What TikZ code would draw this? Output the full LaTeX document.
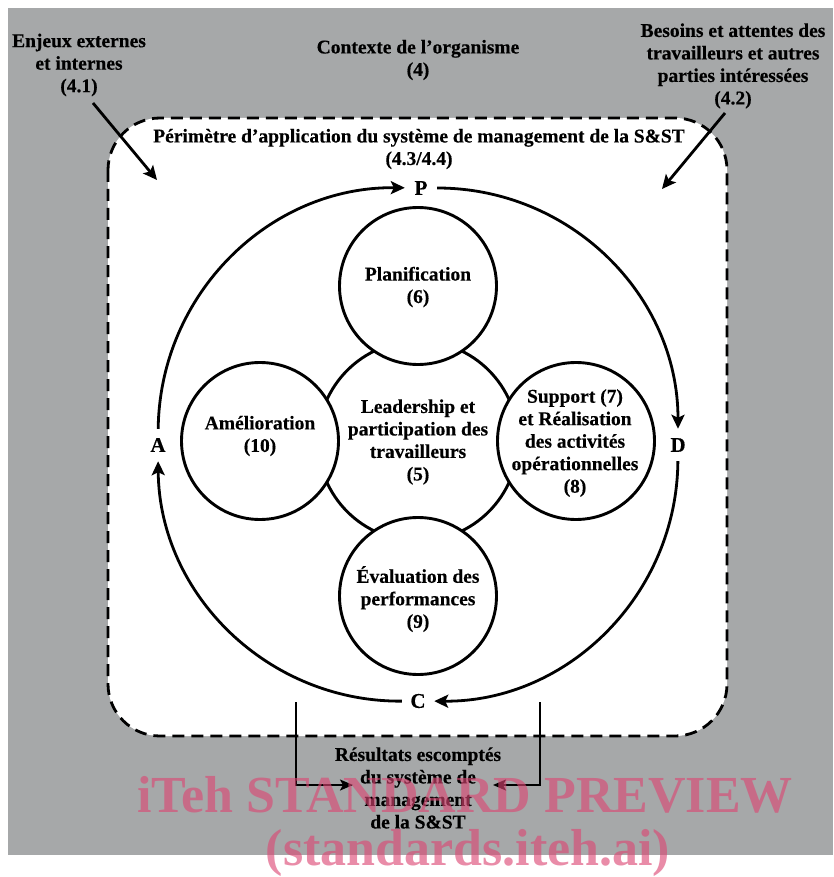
\documentclass[tikz,border=0pt]{standalone}
\usepackage{fontspec}
\setmainfont{Liberation Serif}
\newfontfamily\dfont{Liberation Serif}[BoldFeatures={FakeBold=0.4}]
\usetikzlibrary{arrows.meta}
\definecolor{bggray}{RGB}{166,168,169}
\definecolor{wmark}{RGB}{220,70,115}
\begin{document}
\begin{tikzpicture}[x=1pt,y=-1pt,
  txt/.style={font=\dfont\bfseries\fontsize{19.5}{22.5}\selectfont, align=center, inner sep=0pt},
  lbl/.style={font=\dfont\bfseries\fontsize{21}{24}\selectfont, circle, minimum size=32pt, inner sep=0pt},
  bub/.style={circle, draw, line width=2.9pt, fill=white, minimum size=157pt, inner sep=0pt},
  cyc/.style={line width=2.8pt, -{Stealth[length=14pt,width=13pt,inset=3pt]}},
  fb/.style={line width=1.9pt, -{Stealth[length=13pt,width=11pt,inset=3pt]}},
  scopebox/.style={draw, line width=2.8pt, dash pattern=on 12pt off 7pt, fill=white, rounded corners=52pt},
  wm/.style={font=\bfseries\fontsize{52}{56}\selectfont, text=wmark, text opacity=0.62, inner sep=0pt, anchor=base}
]
\useasboundingbox (0,0) rectangle (833,877);
\fill[bggray] (8,8) rectangle (833,855);
\draw[scopebox] (108,118) rectangle (727,736);

% context texts
\node[txt] (enjeux) at (79,65) {Enjeux externes\\et internes\\(4.1)};
\node[txt] (contexte) at (418,60) {Contexte de l’organisme\\(4)};
\node[txt] (besoins) at (733,66) {Besoins et attentes des\\travailleurs et autres\\parties intéressées\\(4.2)};
\node[txt] (perim) at (419,149) {Périmètre d’application du système de management de la S\&ST\\(4.3/4.4)};

\coordinate (e1) at (93,103);
\coordinate (e2) at (157,180);
\coordinate (b1) at (725,113);
\coordinate (b2) at (662,189);
\draw[cyc] (e1) -- (e2);
\draw[cyc] (b1) -- (b2);

% PDCA labels
\node[lbl] (P) at (421,188) {P};
\node[lbl] (D) at (678,445) {D};
\node[lbl] (C) at (418,701) {C};
\node[lbl] (A) at (158,445) {A};
\draw[cyc] (P) to[bend left=45] (D);
\draw[cyc] (D) to[bend left=45] (C);
\draw[cyc] (C) to[bend left=45] (A);
\draw[cyc] (A) to[bend left=45] (P);

% circles
\node[bub, minimum size=200pt] (lead) at (418,441) {};
\node[bub] (plan) at (418,286) {};
\node[bub] (amel) at (260,441) {};
\node[bub] (supp) at (576,441) {};
\node[bub] (eval) at (418,596) {};

\node[txt] (leadt) at (418,442) {Leadership et\\participation des\\travailleurs\\(5)};
\node[txt] (plant) at (418,287) {Planification\\(6)};
\node[txt] (amelt) at (260,436) {Amélioration\\(10)};
\node[txt] (suppt) at (575,443) {Support (7)\\et Réalisation\\des activités\\opérationnelles\\(8)};
\node[txt] (evalt) at (418,599) {Évaluation des\\performances\\(9)};

% results
\node[txt] (res) at (418,788) {Résultats escomptés\\du système de\\management\\de la S\&ST};
\coordinate (fl0) at (296,702);
\coordinate (fl1) at (353,785);
\coordinate (fr0) at (540,702);
\coordinate (fr1) at (493,785);
\draw[fb] (fl0) |- (fl1);
\draw[fb] (fr0) |- (fr1);

% watermark
\node[wm] (wm1) at (465,812) {iTeh STANDARD PREVIEW};
\node[wm] (wm2) at (468,865) {(standards.iteh.ai)};
\end{tikzpicture}
\end{document}
